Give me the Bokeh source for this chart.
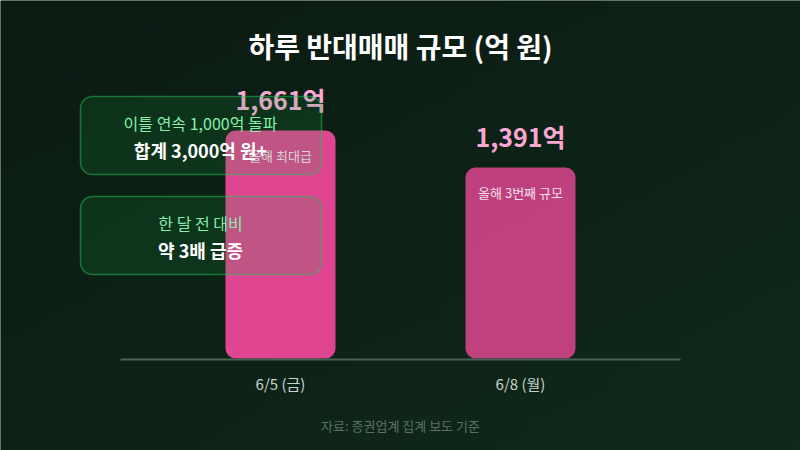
import numpy as np
from bokeh.plotting import figure
from bokeh.models import Range1d, BoxAnnotation, Label, ColumnDataSource
from bokeh.core.properties import value
from bokeh.embed import file_html
from bokeh.resources import INLINE

# ---- data ----
dates = ["6/5 (금)", "6/8 (월)"]
amounts = [1661, 1391]
amount_labels = ["1,661억", "1,391억"]
notes = ["올해 최대급", "올해 3번째 규모"]
bar_alphas = [0.95, 0.8]
title_text = "하루 반대매매 규모 (억 원)"
box_titles = ["이틀 연속 1,000억 돌파", "한 달 전 대비"]
box_values = ["합계 3,000억 원+", "약 3배 급증"]
source_text = "자료: 증권업계 집계 보도 기준"

W, H = 800, 450
FONT = "Noto Sans CJK KR"

# scales: index 0 -> px 280, index 1 -> px 520 ; value 0 -> py 358, 1661 -> py 130
X0, XS = 280.0, 240.0
Y0, YS = 358.0, 228.0 / 1661.0
x_range = Range1d((0 - X0) / XS, (W - X0) / XS)
y_range = Range1d((Y0 - H) / YS, Y0 / YS)

def dx(px):
    return (px - X0) / XS

def dy(py):
    return (Y0 - py) / YS

p = figure(width=W, height=H, x_range=x_range, y_range=y_range,
           output_backend="svg", toolbar_location=None, min_border=0)
p.axis.visible = False
p.grid.visible = False
p.outline_line_color = None
p.background_fill_color = "#0d2117"
p.border_fill_color = "#0d2117"

# background gradient (top-left dark to bottom-right slightly lighter green)
ny, nx = 45, 80
yy, xx = np.mgrid[0:ny, 0:nx]
c0 = np.array([12, 26, 18])
c1 = np.array([15, 42, 27])
img = np.empty((ny, nx), dtype=np.uint32)
view = img.view(dtype=np.uint8).reshape((ny, nx, 4))
tt = 0.5 * (xx / (nx - 1)) + 0.5 * (1 - yy / (ny - 1))  # image row 0 is bottom
for k in range(3):
    view[:, :, k] = (c0[k] + (c1[k] - c0[k]) * tt).astype(np.uint8)
view[:, :, 3] = 255
p.image_rgba(image=[img], x=x_range.start, y=y_range.start,
             dw=x_range.end - x_range.start, dh=y_range.end - y_range.start)

idx = list(range(len(dates)))
src = ColumnDataSource(dict(x=idx, top=amounts, lab=amount_labels, note=notes,
                            alpha=bar_alphas, date=dates))

p.vbar(x="x", top="top", bottom=0, width=110 / XS, source=src,
       fill_color="#ec4899", fill_alpha="alpha", line_color=None,
       border_radius=10)

p.text(x="x", y="top", text="lab", source=src, y_offset=-32,
       text_font=value(FONT), text_font_style="bold", text_font_size="25px",
       text_color="#f9a8d4", text_align="center", text_baseline="middle")

p.text(x="x", y="top", text="note", source=src, y_offset=25,
       text_font=value(FONT), text_font_size="13px",
       text_color="#ffffff", text_alpha=0.85, text_align="center", text_baseline="middle")

p.text(x="x", y=0, text="date", source=src, y_offset=25,
       text_font=value(FONT), text_font_size="15px",
       text_color="#c9d3ce", text_align="center", text_baseline="middle")

p.line(x=[dx(120), dx(680)], y=[dy(359), dy(359)], line_color="#4d6155", line_width=2)

# info boxes
box_tops = [96, 196]
for i in range(2):
    top = box_tops[i]
    p.add_layout(BoxAnnotation(left=dx(80), right=dx(321), top=dy(top), bottom=dy(top + 78),
                               fill_color="#12a847", fill_alpha=0.16,
                               line_color="#22c55e", line_alpha=0.5, line_width=1.5,
                               border_radius=12, level="overlay"))
    p.add_layout(Label(x=dx(200), y=dy(top + 26), text=box_titles[i],
                       text_font=FONT, text_font_size="16px", text_color="#86efac",
                       text_align="center", text_baseline="middle", level="overlay"))
    p.add_layout(Label(x=dx(200), y=dy(top + 53), text=box_values[i],
                       text_font=FONT, text_font_size="18px", text_font_style="bold",
                       text_color="#ffffff", text_align="center", text_baseline="middle",
                       level="overlay"))

p.add_layout(Label(x=dx(400), y=dy(45), text=title_text, text_font=FONT,
                   text_font_size="28px", text_font_style="bold", text_color="#ffffff",
                   text_align="center", text_baseline="middle"))
p.add_layout(Label(x=dx(400), y=dy(425), text=source_text, text_font=FONT,
                   text_font_size="13px", text_color="#5c7165",
                   text_align="center", text_baseline="middle"))

open("out.html", "w").write(file_html(p, INLINE))
